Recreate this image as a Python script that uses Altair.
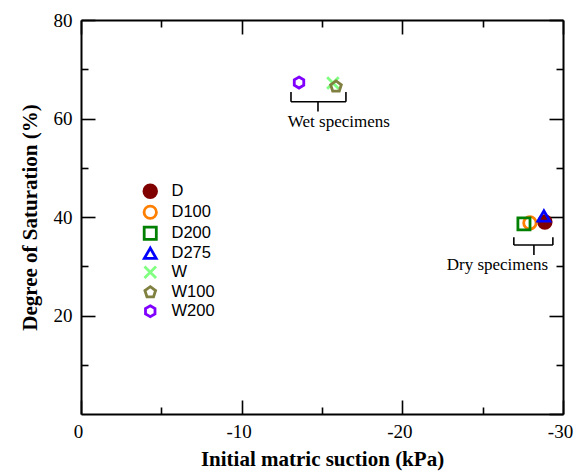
import altair as alt
import pandas as pd

# ---- data ----
series = ["D", "D100", "D200", "D275", "W", "W100", "W200"]
suction = [-28.87, -27.94, -27.57, -28.81, -15.68, -15.87, -13.57]
saturation = [39.0, 38.8, 38.6, 40.2, 67.2, 66.5, 67.3]

colors = ["#800000", "#ff7f00", "#008000", "#0000ff", "#80ff80", "#808040", "#8000ff"]
fills = ["#800000", "transparent", "transparent", "transparent", "transparent", "transparent", "transparent"]
XPATH = "M-1,-1L1,1M-1,1L1,-1"
PENT = "M0,-1L0.951,-0.309L0.588,0.809L-0.588,0.809L-0.951,-0.309Z"
HEX = "M0,-1L0.866,-0.5L0.866,0.5L0,1L-0.866,0.5L-0.866,-0.5Z"
shapes = ["circle", "circle", "square", "triangle-up", XPATH, PENT, HEX]
sizes = [160, 120, 110, 282, 200, 240, 260]
strokes = [2.8, 2.8, 2.8, 2.8, 1.6, 2.8, 2.8]

x_major = [0, -10, -20, -30]
x_minor = [-5, -15, -25]
y_major = [20, 40, 60, 80]
y_minor = [10, 30, 50, 70]

# bracket annotations
br_left = [-13.07, -26.94]
br_right = [-16.49, -29.37]
br_center = [-14.75, -28.19]
br_y = [63.4, 34.3]
br_top = [65.4, 35.9]
br_bottom = [61.4, 32.3]
ann_text = ["Wet specimens", "Dry specimens"]
ann_x = [-16.05, -25.92]
ann_y = [58.3, 29.2]

df = pd.DataFrame({"series": series, "suction": suction, "saturation": saturation})

segs = []
for i in range(len(br_y)):
    segs.append({"x": br_left[i], "x2": br_right[i], "y": br_y[i], "y2": br_y[i]})
    segs.append({"x": br_left[i], "x2": br_left[i], "y": br_y[i], "y2": br_top[i]})
    segs.append({"x": br_right[i], "x2": br_right[i], "y": br_y[i], "y2": br_top[i]})
    segs.append({"x": br_center[i], "x2": br_center[i], "y": br_y[i], "y2": br_bottom[i]})
seg_df = pd.DataFrame(segs)
txt_df = pd.DataFrame({"t": ann_text, "x": ann_x, "y": ann_y})

SERIF = "Liberation Serif"
xs = alt.Scale(domain=[0, -30], nice=False, zero=False)
ys = alt.Scale(domain=[0, 80], nice=False, zero=False)


def axis(orient, values, size, labels=False, title=None, domain=True, **kw):
    return alt.Axis(
        orient=orient, values=values, tickSize={"expr": str(-size)}, tickWidth=1.6,
        tickColor="black", domain=domain, domainColor="black", domainWidth=2,
        labels=labels, grid=False, title=title, labelFont=SERIF, labelFontSize=19,
        labelColor="black", labelFlush=False, titleFont=SERIF, titleFontSize=21,
        titleFontWeight="bold", titleColor="black", **kw)


legend = alt.Legend(title=None, orient="none", legendX=61, legendY=163,
                    labelFont="Liberation Sans", labelFontSize=16.5, labelColor="black",
                    rowPadding=-4, labelOffset=13, symbolOpacity=1, padding=0)

points = alt.Chart(df).mark_point(filled=False, opacity=1).encode(
    x=alt.X("suction:Q", scale=xs,
            axis=axis("bottom", x_major, 14, labels=True, title="Initial matric suction (kPa)",
                      labelExpr="toString(datum.value)", labelPadding=22, labelOffset=-3,
                      titlePadding=7)),
    y=alt.Y("saturation:Q", scale=ys,
            axis=axis("left", y_major, 14, labels=True, title="Degree of Saturation (%)",
                      labelPadding=23, titlePadding=13)),
    color=alt.Color("series:N", scale=alt.Scale(domain=series, range=colors), legend=legend),
    fill=alt.Fill("series:N", scale=alt.Scale(domain=series, range=fills), legend=legend),
    shape=alt.Shape("series:N", scale=alt.Scale(domain=series, range=shapes), legend=legend),
    size=alt.Size("series:N", scale=alt.Scale(domain=series, range=sizes), legend=legend),
    strokeWidth=alt.StrokeWidth("series:N", scale=alt.Scale(domain=series, range=strokes), legend=legend),
    order=alt.Order("idx:Q"),
).transform_window(idx="row_number()")

ghost = alt.Chart(df).mark_point(opacity=0)
minor = ghost.encode(
    x=alt.X("suction:Q", scale=xs, axis=axis("bottom", x_minor, 7, domain=False)),
    y=alt.Y("saturation:Q", scale=ys, axis=axis("left", y_minor, 7, domain=False)),
)
opp_major = ghost.encode(
    x=alt.X("suction:Q", scale=xs, axis=axis("top", x_major, 14)),
    y=alt.Y("saturation:Q", scale=ys, axis=axis("right", y_major + [0], 14)),
)
opp_minor = ghost.encode(
    x=alt.X("suction:Q", scale=xs, axis=axis("top", x_minor, 7, domain=False)),
    y=alt.Y("saturation:Q", scale=ys, axis=axis("right", y_minor, 7, domain=False)),
)

brackets = alt.Chart(seg_df).mark_rule(color="black", strokeWidth=1.6).encode(
    x=alt.X("x:Q", scale=xs, axis=None), x2="x2:Q",
    y=alt.Y("y:Q", scale=ys, axis=None), y2="y2:Q",
)
texts = alt.Chart(txt_df).mark_text(font=SERIF, fontSize=17, color="black",
                                    align="center", baseline="alphabetic").encode(
    x=alt.X("x:Q", scale=xs, axis=None),
    y=alt.Y("y:Q", scale=ys, axis=None),
    text="t:N",
)

chart = alt.layer(minor, opp_major, opp_minor, brackets, texts, points).resolve_axis(
    x="independent", y="independent"
).properties(
    width=482, height=394,
    autosize=alt.AutoSizeParams(type="none"),
    padding={"left": 81, "top": 20, "right": 18, "bottom": 59},
    background="white",
).configure_view(stroke=None)

chart.save("out.html", embed_options={"renderer": "svg", "actions": False})
